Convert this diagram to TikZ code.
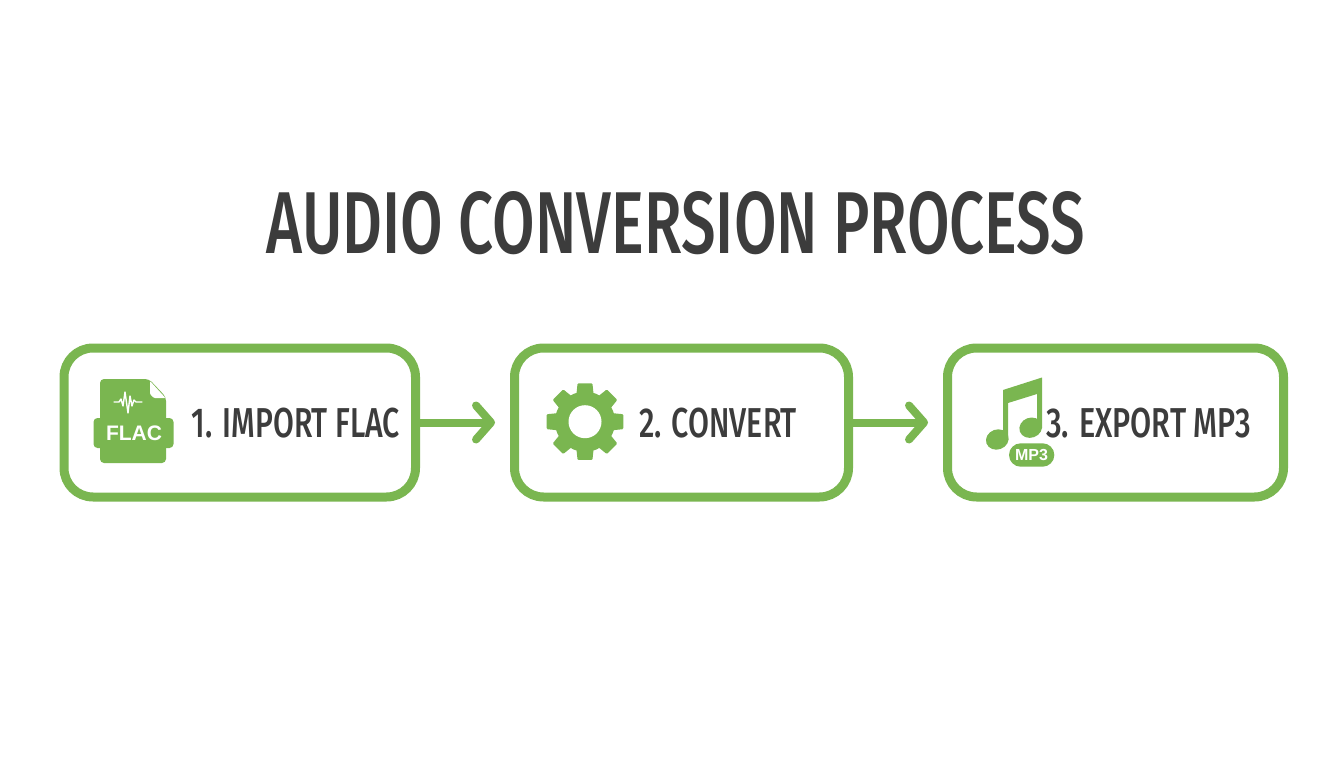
\documentclass[tikz,border=0pt]{standalone}
\usepackage{graphicx}
\usepackage{fontspec}
\setmainfont{Fira Sans Medium}
\newfontfamily\iconfont{Liberation Sans}
\usetikzlibrary{arrows.meta}
\definecolor{leaf}{HTML}{7AB650}
\definecolor{ink}{HTML}{3C3C3C}
\newcommand{\fitlabel}[3]{\resizebox{#1pt}{#2pt}{#3}}
\tikzset{
  x=1pt,y=-1pt,
  stepbox/.style={draw=leaf,line width=9pt,rounded corners=29pt,fill=white,inner sep=0pt,minimum height=149pt},
  steplabel/.style={text=ink,inner sep=0pt,anchor=center},
  iconlabel/.style={text=white,inner sep=0pt,anchor=center,font=\iconfont\bfseries},
  flow/.style={draw=leaf,line width=8pt,line cap=round,-{Straight Barb[length=15pt,width=34pt,round,line width=8pt]}},
}
\begin{document}
\begin{tikzpicture}
\useasboundingbox (0,0) rectangle (1344,768);
\fill[white] (0,0) rectangle (1344,768);
% title
\node[steplabel] (title) at (676,223) {\fitlabel{818}{62}{AUDIO CONVERSION PROCESS}};
% boxes
\node[stepbox,minimum width=351.5pt] (b1) at (239.75,422.5) {};
\node[stepbox,minimum width=334pt] (b2) at (681.5,422.5) {};
\node[stepbox,minimum width=336pt] (b3) at (1115.5,422.5) {};
% arrows
\draw[flow,shorten >=15pt] (b1.east) -- (b2.west);
\draw[flow,shorten >=15pt] (b2.east) -- (b3.west);
% labels
\node[steplabel] (l1) at (296,423) {\fitlabel{208}{29.5}{1. IMPORT FLAC}};
\node[steplabel] (l2) at (718,423) {\fitlabel{158}{29.5}{2. CONVERT}};
\node[steplabel] (l3) at (1148.5,423) {\fitlabel{205}{29.5}{3. EXPORT MP3}};
% FLAC icon
\fill[leaf,rounded corners=4pt] (100,379) -- (149,379) -- (166,397) -- (166,463) -- (100,463) -- cycle;
\fill[leaf,rounded corners=4pt] (93.5,418) rectangle (173.5,448);
\fill[white,rounded corners=1pt] (150,381) -- (165.5,398) -- (154,398) -- (150,394) -- cycle;
\draw[white,line width=1.4pt,line cap=round,line join=round]
  (114,402) -- (119,402) -- (121,399) -- (123,406) -- (125,392) -- (128,413) -- (130,396) -- (132,406) -- (134,400) -- (136,402) -- (142,402);
\node[iconlabel,font=\iconfont\bfseries\fontsize{21}{21}\selectfont] (flac) at (134,433) {FLAC};
% gear icon
\fill[leaf] (585,421.7) circle[radius=30];
\foreach \k in {0,45,...,315}{
  \fill[leaf,rounded corners=1pt] ([shift={(585,421.7)}]\k-18:28) -- ([shift={(585,421.7)}]\k-11:39) -- ([shift={(585,421.7)}]\k+11:39) -- ([shift={(585,421.7)}]\k+18:28) -- cycle;
}
\fill[white] (585,421.7) circle[radius=16.5];
% music icon
\fill[leaf,rotate around={20:(997.3,439.5)}] (997.3,439.5) ellipse[x radius=11.5,y radius=10];
\fill[leaf,rotate around={20:(1030.7,427.7)}] (1030.7,427.7) ellipse[x radius=11.5,y radius=10];
\fill[leaf] (1003,439) -- (1003,390) -- (1042,377.5) -- (1042,428) -- (1037,428) -- (1037,394) -- (1008,403) -- (1008,439) -- cycle;
\fill[leaf,rounded corners=11.7pt] (1009,443.3) rectangle (1054.3,466.7);
\node[iconlabel,font=\iconfont\bfseries\fontsize{16}{16}\selectfont] (mp3) at (1031.5,455) {MP3};
\end{tikzpicture}
\end{document}
